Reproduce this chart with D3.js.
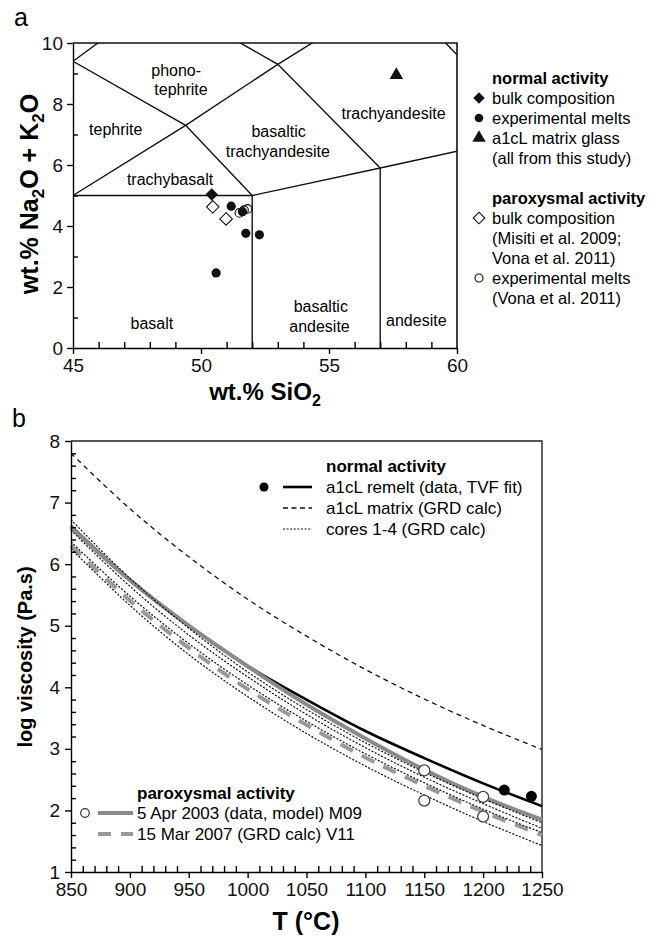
<!doctype html>
<html>
<head>
<meta charset="utf-8">
<script src="https://cdn.jsdelivr.net/npm/d3@7"></script>
<style>
  body { margin: 0; background: #fff; }
  svg { font-family: "Liberation Sans", Arial, sans-serif; }
  .axis path, .axis line { stroke: #000; stroke-width: 1.4; }
  .axis text { font-size: 19px; fill: #111; }
</style>
</head>
<body>
<script>
// ---- panel a: TAS diagram ----
var tasBoundaries = [
  [[45, 5], [52, 5]],
  [[52, 0], [52, 5], [57, 5.9], [63, 7]],
  [[57, 0], [57, 5.9]],
  [[45, 5], [49.4, 7.3], [53, 9.3], [57.6, 11.7]],
  [[45, 9.4], [49.4, 7.3], [52, 5]],
  [[45, 9.4], [48.4, 11.5]],
  [[48.4, 11.5], [53, 9.3], [57, 5.9]],
  [[57.6, 11.7], [63, 7]]
];
var tasLabels = [
  {t: 'phono-', x: 49.03, y: 9.09},
  {t: 'tephrite', x: 49.22, y: 8.49},
  {t: 'tephrite', x: 46.67, y: 7.17},
  {t: 'trachybasalt', x: 48.79, y: 5.54},
  {t: 'basaltic', x: 53.03, y: 7.10},
  {t: 'trachyandesite', x: 53.0, y: 6.46},
  {t: 'trachyandesite', x: 57.52, y: 7.70},
  {t: 'basalt', x: 48.08, y: 0.80},
  {t: 'basaltic', x: 54.68, y: 1.38},
  {t: 'andesite', x: 54.63, y: 0.72},
  {t: 'andesite', x: 58.41, y: 0.91}
];
var bulkNormal = [[50.42, 5.03]];
var meltsNormal = [[51.18, 4.65], [51.75, 3.76], [52.28, 3.71], [50.59, 2.46], [51.62, 4.47]];
var matrixGlass = [[57.63, 8.95]];
var bulkParox = [[50.46, 4.63], [50.98, 4.23]];
var meltsParox = [[51.5, 4.43], [51.68, 4.52], [51.82, 4.56]];

// ---- panel b: viscosity curves ----
var temps = [850, 900, 950, 1000, 1050, 1100, 1150, 1200, 1250];
var remeltTVF = [6.62, 5.75, 5.00, 4.35, 3.80, 3.29, 2.85, 2.44, 2.07];
var matrixGRD = [7.80, 6.90, 6.12, 5.43, 4.83, 4.29, 3.81, 3.38, 2.99];
var core1 = [6.72, 5.77, 4.96, 4.25, 3.64, 3.10, 2.62, 2.19, 1.80];
var core2 = [6.55, 5.64, 4.85, 4.17, 3.56, 3.02, 2.54, 2.11, 1.71];
var core3 = [6.36, 5.48, 4.71, 4.04, 3.45, 2.92, 2.45, 2.02, 1.64];
var core4 = [6.25, 5.33, 4.53, 3.85, 3.25, 2.72, 2.25, 1.82, 1.43];
var apr2003 = [6.60, 5.74, 5.00, 4.34, 3.72, 3.17, 2.66, 2.22, 1.85];
var mar2007 = [6.30, 5.41, 4.64, 3.97, 3.39, 2.86, 2.40, 1.98, 1.60];
var remeltData = [[1218, 2.33], [1241, 2.23]];
var parox2003Data = [[1150, 2.65], [1200, 2.22], [1150, 2.16], [1200, 1.90]];

var svg = d3.select('body').append('svg')
    .attr('width', 650)
    .attr('height', 936);

// ================= panel a =================
var xa = d3.scaleLinear().domain([45, 60]).range([73, 457]);
var ya = d3.scaleLinear().domain([0, 10]).range([348, 43]);

svg.append('text').attr('x', 14).attr('y', 26).attr('font-size', 25).text('a');

svg.append('clipPath').attr('id', 'clipA')
  .append('rect').attr('x', 73).attr('y', 43).attr('width', 384).attr('height', 305);

var gA = svg.append('g');
var line = d3.line().x(function(d){ return xa(d[0]); }).y(function(d){ return ya(d[1]); });
gA.append('g').attr('clip-path', 'url(#clipA)')
  .selectAll('path').data(tasBoundaries).enter().append('path')
    .attr('d', line)
    .attr('fill', 'none').attr('stroke', '#111').attr('stroke-width', 1.4);

// frame
gA.append('path')
  .attr('d', 'M73,43H457V348')
  .attr('fill', 'none').attr('stroke', '#111').attr('stroke-width', 1.6);

gA.selectAll('text.lab').data(tasLabels).enter().append('text')
  .attr('class', 'lab')
  .attr('x', function(d){ return xa(d.x); })
  .attr('y', function(d){ return ya(d.y); })
  .attr('dy', '0.35em')
  .attr('text-anchor', 'middle')
  .attr('font-size', 16)
  .text(function(d){ return d.t; });

// axes
svg.append('g').attr('class', 'axis')
  .attr('transform', 'translate(0,348)')
  .call(d3.axisBottom(xa).tickValues([45, 50, 55, 60]).tickSize(6).tickSizeOuter(0).tickPadding(5));
svg.append('g').attr('class', 'axis')
  .attr('transform', 'translate(0,348)')
  .call(d3.axisBottom(xa).tickValues(d3.range(46, 60).filter(function(v){ return v % 5; }))
        .tickSize(-6).tickFormat('').tickSizeOuter(0))
  .select('.domain').remove();
svg.append('g').attr('class', 'axis')
  .attr('transform', 'translate(73,0)')
  .call(d3.axisLeft(ya).tickValues([0, 2, 4, 6, 8, 10]).tickSize(6).tickSizeOuter(0).tickPadding(4));
svg.append('g').attr('class', 'axis')
  .attr('transform', 'translate(73,0)')
  .call(d3.axisLeft(ya).tickValues([1, 3, 5, 7, 9]).tickSize(-5).tickFormat('').tickSizeOuter(0))
  .select('.domain').remove();

var tA = svg.append('text').attr('x', 265).attr('y', 400).attr('text-anchor', 'middle')
  .attr('font-size', 24).attr('font-weight', 'bold');
tA.append('tspan').text('wt.% SiO');
tA.append('tspan').attr('font-size', 16).attr('dy', 6).text('2');

var tAy = svg.append('text').attr('transform', 'translate(38,194) rotate(-90)')
  .attr('text-anchor', 'middle').attr('font-size', 25).attr('font-weight', 'bold');
tAy.append('tspan').text('wt.% Na');
tAy.append('tspan').attr('font-size', 17).attr('dy', 6).text('2');
tAy.append('tspan').attr('dy', -6).text('O + K');
tAy.append('tspan').attr('font-size', 17).attr('dy', 6).text('2');
tAy.append('tspan').attr('dy', -6).text('O');

// symbols
var diamond = d3.symbol().type(d3.symbolDiamond2).size(100);
var diamondLeg = d3.symbol().type(d3.symbolDiamond2).size(85);
var tri = d3.symbol().type(d3.symbolTriangle).size(78);

gA.selectAll('path.bp').data(bulkParox).enter().append('path')
  .attr('class', 'bp').attr('d', diamond)
  .attr('transform', function(d){ return 'translate(' + xa(d[0]) + ',' + ya(d[1]) + ')'; })
  .attr('fill', '#fff').attr('stroke', '#111').attr('stroke-width', 1.1);
gA.selectAll('circle.mn').data(meltsNormal).enter().append('circle')
  .attr('class', 'mn').attr('cx', function(d){ return xa(d[0]); }).attr('cy', function(d){ return ya(d[1]); })
  .attr('r', 4.6).attr('fill', '#111');
gA.selectAll('circle.mp').data(meltsParox).enter().append('circle')
  .attr('class', 'mp').attr('cx', function(d){ return xa(d[0]); }).attr('cy', function(d){ return ya(d[1]); })
  .attr('r', 4.3).attr('fill', 'none').attr('stroke', '#111').attr('stroke-width', 1.1);
gA.selectAll('path.bn').data(bulkNormal).enter().append('path')
  .attr('class', 'bn').attr('d', diamond)
  .attr('transform', function(d){ return 'translate(' + xa(d[0]) + ',' + ya(d[1]) + ')'; })
  .attr('fill', '#111');
gA.selectAll('path.mg').data(matrixGlass).enter().append('path')
  .attr('class', 'mg').attr('d', tri)
  .attr('transform', function(d){ return 'translate(' + xa(d[0]) + ',' + ya(d[1]) + ')'; })
  .attr('fill', '#111');

// legend a
var legA = svg.append('g').attr('font-size', 16.5);
var legARows = [
  {t: 'normal activity', y: 78, b: true},
  {t: 'bulk composition', y: 98, m: 'fd'},
  {t: 'experimental melts', y: 118, m: 'fc'},
  {t: 'a1cL matrix glass', y: 138, m: 'ft'},
  {t: '(all from this study)', y: 158},
  {t: 'paroxysmal activity', y: 198, b: true},
  {t: 'bulk composition', y: 218, m: 'od'},
  {t: '(Misiti et al. 2009;', y: 238},
  {t: 'Vona et al. 2011)', y: 258},
  {t: 'experimental melts', y: 278, m: 'oc'},
  {t: '(Vona et al. 2011)', y: 298}
];
legARows.forEach(function(r){
  legA.append('text').attr('x', 492).attr('y', r.y).attr('dy', '0.35em')
    .attr('font-weight', r.b ? 'bold' : null).text(r.t);
  var tr = 'translate(479,' + r.y + ')';
  if (r.m === 'fd') legA.append('path').attr('d', diamondLeg).attr('transform', tr).attr('fill', '#111');
  if (r.m === 'fc') legA.append('circle').attr('cx', 479).attr('cy', r.y).attr('r', 4.3).attr('fill', '#111');
  if (r.m === 'ft') legA.append('path').attr('d', tri).attr('transform', tr).attr('fill', '#111');
  if (r.m === 'od') legA.append('path').attr('d', diamondLeg).attr('transform', tr)
      .attr('fill', '#fff').attr('stroke', '#111').attr('stroke-width', 1.1);
  if (r.m === 'oc') legA.append('circle').attr('cx', 479).attr('cy', r.y).attr('r', 4)
      .attr('fill', '#fff').attr('stroke', '#111').attr('stroke-width', 1.1);
});

// ================= panel b =================
var xb = d3.scaleLinear().domain([850, 1250]).range([71, 542]);
var yb = d3.scaleLinear().domain([1, 8]).range([872, 441]);

svg.append('text').attr('x', 12).attr('y', 427).attr('font-size', 25).text('b');

var gB = svg.append('g');
gB.append('path').attr('d', 'M71,441H542V872')
  .attr('fill', 'none').attr('stroke', '#222').attr('stroke-width', 1.4);

var curve = d3.line()
  .x(function(d, i){ return xb(temps[i]); })
  .y(function(d){ return yb(d); })
  .curve(d3.curveCatmullRom.alpha(0.5));

gB.append('path').attr('d', curve(matrixGRD)).attr('fill', 'none')
  .attr('stroke', '#111').attr('stroke-width', 1.3).attr('stroke-dasharray', '5,4');
gB.append('path').attr('d', curve(remeltTVF)).attr('fill', 'none')
  .attr('stroke', '#000').attr('stroke-width', 2.6);
gB.append('path').attr('d', curve(apr2003)).attr('fill', 'none')
  .attr('stroke', '#8a8a8a').attr('stroke-width', 4);
gB.append('path').attr('d', curve(mar2007)).attr('fill', 'none')
  .attr('stroke', '#999').attr('stroke-width', 4).attr('stroke-dasharray', '14,10');
gB.selectAll('path.core').data([core1, core2, core3, core4]).enter().append('path')
  .attr('class', 'core')
  .attr('d', curve).attr('fill', 'none')
  .attr('stroke', '#111').attr('stroke-width', 1.2).attr('stroke-dasharray', '2,1.6');

gB.selectAll('circle.rd').data(remeltData).enter().append('circle')
  .attr('class', 'rd').attr('cx', function(d){ return xb(d[0]); }).attr('cy', function(d){ return yb(d[1]); })
  .attr('r', 5.5).attr('fill', '#000');
gB.selectAll('circle.pd').data(parox2003Data).enter().append('circle')
  .attr('class', 'pd').attr('cx', function(d){ return xb(d[0]); }).attr('cy', function(d){ return yb(d[1]); })
  .attr('r', 5.5).attr('fill', '#fff').attr('stroke', '#444').attr('stroke-width', 1.3);

// axes b
var fmt = d3.format('d');
svg.append('g').attr('class', 'axis')
  .attr('transform', 'translate(0,872)')
  .call(d3.axisBottom(xb).tickValues(d3.range(850, 1251, 50)).tickFormat(fmt)
        .tickSize(6).tickSizeOuter(0).tickPadding(5));
svg.append('g').attr('class', 'axis')
  .attr('transform', 'translate(0,872)')
  .call(d3.axisBottom(xb).tickValues(d3.range(860, 1250, 10).filter(function(v){ return v % 50; }))
        .tickSize(-6).tickFormat('').tickSizeOuter(0))
  .select('.domain').remove();
svg.append('g').attr('class', 'axis')
  .attr('transform', 'translate(71,0)')
  .call(d3.axisLeft(yb).tickValues(d3.range(1, 9)).tickFormat(fmt)
        .tickSize(6).tickSizeOuter(0).tickPadding(5));
svg.append('g').attr('class', 'axis')
  .attr('transform', 'translate(71,0)')
  .call(d3.axisLeft(yb).tickValues(d3.range(1.2, 8, 0.2).filter(function(v){ return Math.abs(v - Math.round(v)) > 0.05; }))
        .tickSize(-5).tickFormat('').tickSizeOuter(0))
  .select('.domain').remove();

svg.append('text').attr('x', 306).attr('y', 930).attr('text-anchor', 'middle')
  .attr('font-size', 25).attr('font-weight', 'bold').text('T (\u00b0C)');
svg.append('text').attr('transform', 'translate(32,657) rotate(-90)')
  .attr('text-anchor', 'middle').attr('font-size', 20).attr('font-weight', 'bold')
  .text('log viscosity (Pa.s)');

// legend b, normal
var legB = svg.append('g').attr('font-size', 17);
legB.append('text').attr('x', 326).attr('y', 466).attr('dy', '0.35em').attr('font-weight', 'bold').text('normal activity');
legB.append('circle').attr('cx', 264).attr('cy', 487).attr('r', 4.5).attr('fill', '#000');
legB.append('line').attr('x1', 283).attr('x2', 312).attr('y1', 487).attr('y2', 487)
  .attr('stroke', '#000').attr('stroke-width', 2.6);
legB.append('text').attr('x', 326).attr('y', 487).attr('dy', '0.35em').text('a1cL remelt (data, TVF fit)');
legB.append('line').attr('x1', 283).attr('x2', 312).attr('y1', 508).attr('y2', 508)
  .attr('stroke', '#111').attr('stroke-width', 1.3).attr('stroke-dasharray', '5,3.5');
legB.append('text').attr('x', 326).attr('y', 508).attr('dy', '0.35em').text('a1cL matrix (GRD calc)');
legB.append('line').attr('x1', 283).attr('x2', 312).attr('y1', 529).attr('y2', 529)
  .attr('stroke', '#111').attr('stroke-width', 1.2).attr('stroke-dasharray', '2,1.6');
legB.append('text').attr('x', 326).attr('y', 529).attr('dy', '0.35em').text('cores 1-4 (GRD calc)');

// legend b, paroxysmal
legB.append('text').attr('x', 137).attr('y', 793).attr('dy', '0.35em').attr('font-weight', 'bold').text('paroxysmal activity');
legB.append('circle').attr('cx', 85).attr('cy', 813).attr('r', 4.3)
  .attr('fill', '#fff').attr('stroke', '#333').attr('stroke-width', 1.2);
legB.append('line').attr('x1', 98).attr('x2', 133).attr('y1', 813).attr('y2', 813)
  .attr('stroke', '#8a8a8a').attr('stroke-width', 4);
legB.append('text').attr('x', 137).attr('y', 813).attr('dy', '0.35em').text('5 Apr 2003 (data, model) M09');
legB.append('line').attr('x1', 98).attr('x2', 133).attr('y1', 834).attr('y2', 834)
  .attr('stroke', '#999').attr('stroke-width', 4).attr('stroke-dasharray', '13,10');
legB.append('text').attr('x', 137).attr('y', 834).attr('dy', '0.35em').text('15 Mar 2007 (GRD calc) V11');
</script>
</body>
</html>
